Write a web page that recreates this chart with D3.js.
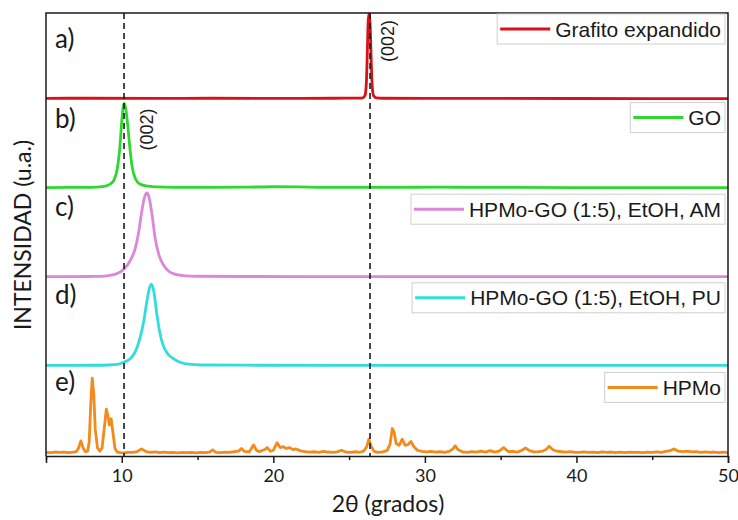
<!DOCTYPE html>
<html>
<head>
<meta charset="utf-8">
<script src="https://cdn.jsdelivr.net/npm/d3@7"></script>
<style>
  body { margin: 0; background: #fff; }
  svg { display: block; }
</style>
</head>
<body>
<svg id="chart" width="738" height="520"></svg>
<script>
// XRD patterns, 2θ (degrees) vs relative intensity (a.u., 0–100 per panel)
const grafitoExpandido = [
  [5, 3.7], [8, 3.8], [12, 3.6], [16, 3.8], [20, 3.7], [24, 3.8], [25.6, 3.9], [25.9, 4.3],
  [26.05, 7], [26.14, 22], [26.2, 55], [26.25, 88], [26.3, 99], [26.35, 96], [26.4, 80],
  [26.46, 45], [26.53, 16], [26.62, 6.5], [26.8, 4.3], [27.2, 3.8], [30, 3.6], [35, 3.6],
  [40, 3.5], [45, 3.4], [50, 3.3]
];
const goPattern = [
  [5, 3.0], [6.5, 3.1], [7.5, 3.2], [8.3, 3.5], [8.8, 4.3], [9.2, 6.5], [9.5, 12],
  [9.7, 24], [9.85, 44], [10.0, 78], [10.1, 95], [10.17, 98], [10.27, 91], [10.4, 72],
  [10.55, 45], [10.7, 25], [10.9, 13], [11.2, 7], [11.6, 4.8], [12.3, 3.8], [13.5, 3.3],
  [16, 3.2], [18, 3.4], [20, 3.9], [21.5, 3.7], [23, 3.3], [25, 3.1], [28, 3.2], [31, 3.5],
  [33, 3.2], [36, 3.1], [40, 3.0], [45, 2.9], [50, 2.9]
];
const hpmoGoAM = [
  [5, 2.4], [7, 2.5], [8.3, 2.7], [9.0, 3.4], [9.6, 5.2], [10.15, 11], [10.6, 22],
  [10.9, 35], [11.1, 51], [11.3, 74], [11.5, 92], [11.65, 97], [11.8, 92], [12.0, 72],
  [12.2, 46], [12.45, 27], [12.75, 15.5], [13.1, 8.5], [13.5, 5.2], [14.0, 3.7], [15, 2.9],
  [18, 2.6], [25, 2.5], [35, 2.4], [50, 2.4]
];
const hpmoGoPU = [
  [5, 2.3], [8, 2.4], [9.2, 2.7], [9.7, 3.3], [10.1, 5.5], [10.6, 10.5], [10.9, 18],
  [11.2, 33], [11.45, 52], [11.65, 74], [11.85, 91], [11.95, 94], [12.1, 87], [12.3, 62],
  [12.5, 40], [12.75, 24], [13.0, 16], [13.4, 10], [13.9, 5.5], [14.4, 3.6], [15.2, 2.7],
  [20, 2.4], [30, 2.3], [40, 2.3], [50, 2.3]
];
const hpmoPattern = [
  [5.0, 4.2], [5.3, 3.8], [5.6, 4.5], [5.9, 4.0], [6.2, 4.4], [6.5, 3.9], [6.8, 4.3],
  [7.0, 5.0], [7.15, 9], [7.3, 17], [7.45, 9], [7.6, 4.8], [7.75, 5.5], [7.85, 16],
  [7.95, 58], [8.05, 88], [8.15, 70], [8.25, 30], [8.4, 9], [8.55, 5.5], [8.7, 9],
  [8.85, 32], [8.98, 53], [9.08, 46], [9.18, 35], [9.3, 42], [9.42, 26], [9.55, 8.5],
  [9.7, 4.5], [9.9, 3.8], [10.15, 3.5], [10.4, 4.2], [10.7, 4.0], [11.0, 4.8], [11.3, 8.0],
  [11.6, 5.0], [11.9, 4.2], [12.2, 4.6], [12.5, 3.9], [12.8, 4.3], [13.1, 3.8], [13.4, 4.1],
  [13.7, 3.6], [14.0, 4.0], [14.3, 3.7], [14.6, 4.2], [14.9, 3.6], [15.2, 4.0], [15.5, 3.7],
  [15.8, 4.3], [16.0, 6.8], [16.2, 4.2], [16.5, 3.8], [16.8, 4.4], [17.1, 4.0], [17.4, 4.8],
  [17.7, 5.5], [17.9, 8.5], [18.1, 5.2], [18.4, 4.6], [18.7, 12.5], [18.9, 6.0], [19.1, 5.0],
  [19.4, 7.0], [19.6, 9.5], [19.8, 5.4], [20.0, 6.5], [20.25, 15], [20.45, 9.5], [20.65, 10.5],
  [20.85, 8.5], [21.05, 9.5], [21.3, 7.2], [21.5, 8.0], [21.8, 5.8], [22.1, 5.0], [22.4, 4.4],
  [22.7, 4.8], [23.0, 4.2], [23.3, 5.2], [23.6, 4.5], [23.9, 4.0], [24.2, 4.6], [24.5, 6.5],
  [24.8, 4.3], [25.1, 4.0], [25.4, 4.8], [25.7, 4.2], [25.95, 5.5], [26.15, 10], [26.3, 19],
  [26.45, 11], [26.65, 5.2], [26.9, 4.2], [27.2, 4.6], [27.5, 6.0], [27.7, 13], [27.85, 31],
  [27.97, 27], [28.1, 14], [28.3, 12], [28.5, 19], [28.7, 12], [28.9, 13], [29.08, 16.5],
  [29.25, 11], [29.5, 6.5], [29.8, 5.2], [30.1, 4.6], [30.4, 5.3], [30.7, 4.4], [31.0, 4.8],
  [31.3, 4.2], [31.6, 5.2], [31.85, 8.0], [32.0, 11.5], [32.2, 7.0], [32.5, 4.6], [32.8, 4.2],
  [33.1, 4.9], [33.4, 4.3], [33.7, 5.4], [34.0, 4.4], [34.3, 6.0], [34.6, 4.3], [34.9, 5.4],
  [35.2, 9.5], [35.5, 5.0], [35.8, 5.2], [36.1, 4.4], [36.4, 6.5], [36.65, 9.0], [36.9, 6.0],
  [37.2, 4.6], [37.5, 5.0], [37.8, 5.6], [38.0, 7.5], [38.2, 11.0], [38.45, 7.0], [38.7, 5.4],
  [39.0, 4.8], [39.3, 4.3], [39.6, 4.9], [39.9, 4.2], [40.2, 4.0], [40.5, 4.6], [40.8, 4.0],
  [41.1, 4.4], [41.4, 3.9], [41.7, 4.6], [42.0, 4.1], [42.3, 4.5], [42.6, 3.8], [42.9, 4.3],
  [43.2, 3.8], [43.5, 4.4], [43.8, 4.0], [44.1, 4.2], [44.4, 3.7], [44.7, 4.3], [45.0, 4.0],
  [45.3, 4.6], [45.6, 4.2], [45.9, 5.2], [46.2, 6.2], [46.45, 8.0], [46.7, 5.6], [47.0, 5.0],
  [47.3, 5.6], [47.6, 4.6], [47.9, 5.0], [48.2, 4.2], [48.5, 4.7], [48.8, 4.0], [49.1, 4.5],
  [49.4, 3.8], [49.7, 4.3], [50.0, 3.9]
];

const seriesData = [grafitoExpandido, goPattern, hpmoGoAM, hpmoGoPU, hpmoPattern];
const legendLabels = ["Grafito expandido", "GO", "HPMo-GO (1:5), EtOH, AM", "HPMo-GO (1:5), EtOH, PU", "HPMo"];
const panelLabels = ["a)", "b)", "c)", "d)", "e)"];
const seriesColors = ["#d81018", "#2fd82f", "#dc86dc", "#33dcdc", "#f28a1c"];

const xTicks = [10, 20, 30, 40, 50];
const xMinorTicks = [5, 15, 25, 35, 45];
const referenceLines = [10.15, 26.38];
const reflectionLabels = [
  { pos: 26.38, panel: 0, label: "(002)" },
  { pos: 10.15, panel: 1, label: "(002)" }
];

// Layout
const plotLeft = 46, plotRight = 728, plotTop = 13, axisY = 456;
const nPanels = seriesData.length;
const panelH = (axisY - plotTop) / nPanels;
const labelBaselines = [48, 128, 216, 304, 391];
const legendCenters = [16, 16, 19, 19, 20];

const svg = d3.select("#chart");

const x = d3.scaleLinear().domain([5, 50]).range([plotLeft, plotRight]);
const yScales = seriesData.map((_, i) =>
  d3.scaleLinear().domain([0, 100]).range([plotTop + (i + 1) * panelH, plotTop + i * panelH])
);

// Traces
seriesData.forEach((data, i) => {
  const line = d3.line()
    .x(d => x(d[0]))
    .y(d => yScales[i](d[1]))
    .curve(i === 4 ? d3.curveLinear : d3.curveMonotoneX);
  svg.append("path")
    .datum(data)
    .attr("d", line)
    .attr("fill", "none")
    .attr("stroke", seriesColors[i])
    .attr("stroke-width", 2.8)
    .attr("stroke-linejoin", "round");
});

// Reference dashed lines at the (002) positions
svg.selectAll("line.ref")
  .data(referenceLines)
  .join("line")
  .attr("class", "ref")
  .attr("x1", d => x(d)).attr("x2", d => x(d))
  .attr("y1", plotTop).attr("y2", axisY)
  .attr("stroke", "#1a1a1a")
  .attr("stroke-width", 1.6)
  .attr("stroke-dasharray", "6,4");

// Reflection labels
svg.selectAll("text.refl")
  .data(reflectionLabels)
  .join("text")
  .attr("class", "refl")
  .attr("transform", d => {
    const cx = x(d.pos) + (d.panel === 0 ? 18 : 23);
    const cy = plotTop + d.panel * panelH + 28;
    return `translate(${cx},${cy}) rotate(-90)`;
  })
  .attr("text-anchor", "middle")
  .attr("dominant-baseline", "central")
  .style("font-family", "'Liberation Sans', Arial, sans-serif")
  .style("font-size", "18px")
  .attr("fill", "#1a1a1a")
  .text(d => d.label);

// Frame: left, top, right
svg.append("path")
  .attr("d", `M${plotLeft},${axisY}V${plotTop}H${plotRight}V${axisY}`)
  .attr("fill", "none")
  .attr("stroke", "#1a1a1a")
  .attr("stroke-width", 1.5);

// Bottom axis
const xAxis = d3.axisBottom(x)
  .tickValues(xTicks)
  .tickSize(7)
  .tickPadding(6)
  .tickFormat(d3.format("d"));
const gx = svg.append("g")
  .attr("transform", `translate(0,${axisY})`)
  .call(xAxis);
gx.select(".domain").attr("stroke", "#1a1a1a").attr("stroke-width", 1.5);
gx.selectAll(".tick line").attr("stroke", "#1a1a1a").attr("stroke-width", 1.5);
gx.selectAll(".tick text")
  .style("font-family", "Lato, 'Open Sans', sans-serif")
  .style("font-size", "18px")
  .attr("fill", "#1a1a1a");

const xMinor = d3.axisBottom(x).tickValues(xMinorTicks).tickSize(4).tickFormat("");
const gm = svg.append("g").attr("transform", `translate(0,${axisY})`).call(xMinor);
gm.select(".domain").remove();
gm.selectAll(".tick line").attr("stroke", "#1a1a1a").attr("stroke-width", 1.5);

// Axis titles
svg.append("text")
  .attr("x", (plotLeft + plotRight) / 2 + 1)
  .attr("y", 512)
  .attr("text-anchor", "middle")
  .style("font-family", "Lato, 'Open Sans', sans-serif")
  .style("font-size", "23px")
  .attr("fill", "#1a1a1a")
  .text("2θ (grados)");

svg.append("text")
  .attr("transform", `translate(31,${235}) rotate(-90)`)
  .attr("text-anchor", "middle")
  .style("font-family", "Lato, 'Open Sans', sans-serif")
  .style("font-size", "23px")
  .attr("fill", "#1a1a1a")
  .text("INTENSIDAD (u.a.)");

// Panel letters
svg.selectAll("text.plabel")
  .data(panelLabels)
  .join("text")
  .attr("class", "plabel")
  .attr("x", 55)
  .attr("y", (d, i) => labelBaselines[i])
  .style("font-family", "Lato, 'Open Sans', sans-serif")
  .style("font-size", "26px")
  .attr("fill", "#1a1a1a")
  .text(d => d);

// Legends, one per panel
legendLabels.forEach((label, i) => {
  const cy = plotTop + i * panelH + legendCenters[i];
  const g = svg.append("g");
  const rect = g.append("rect");
  const txt = g.append("text")
    .attr("x", 721)
    .attr("y", cy)
    .attr("text-anchor", "end")
    .attr("dominant-baseline", "central")
    .style("font-family", "'Liberation Sans', Arial, sans-serif")
    .style("font-size", "21px")
    .attr("fill", "#1a1a1a")
    .text(label);
  const tw = txt.node().getComputedTextLength();
  const tx = 721 - tw;
  g.insert("line", "text")
    .attr("x1", tx - 55).attr("x2", tx - 5)
    .attr("y1", cy).attr("y2", cy)
    .attr("stroke", seriesColors[i])
    .attr("stroke-width", 3);
  rect.attr("x", tx - 58).attr("y", cy - 15)
    .attr("width", 725 - (tx - 58)).attr("height", 30)
    .attr("fill", "#fff")
    .attr("stroke", "#cfcfcf")
    .attr("stroke-width", 1);
});
</script>
</body>
</html>
